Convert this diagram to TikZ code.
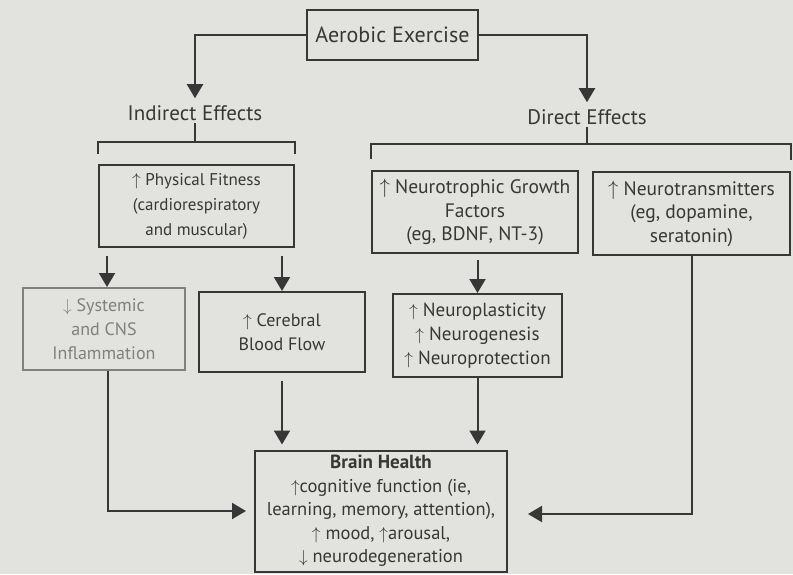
\documentclass[tikz,border=0pt]{standalone}
\usepackage{fontspec}
\setmainfont{PT Sans}
\usetikzlibrary{
  arrows.meta,
  calc,
  positioning
}

\definecolor{paper}{RGB}{226,226,223}
\definecolor{ink}{RGB}{55,55,55}
\definecolor{faded}{RGB}{128,128,126}

\newcommand{\incr}{$\uparrow$}
\newcommand{\decr}{$\downarrow$}

\tikzset{
  box/.style = {draw=ink, line width=2pt, align=center, inner sep=2pt,
    text=ink, font=\fontsize{19.5}{23.5}\selectfont},
  head/.style = {text=ink, inner sep=2pt, font=\fontsize{21}{24}\selectfont},
  link/.style = {draw=ink, line width=2pt},
  arr/.style = {link, -{Triangle[width=16pt,length=14pt]}}
}

\begin{document}
\begin{tikzpicture}[x=1pt, y=-1pt]
    \fill[paper] (0,0) rectangle (793,574);
    \useasboundingbox (0,0) rectangle (793,574);

    \node[box, minimum width=171pt, minimum height=50pt, font=\fontsize{22}{24}\selectfont] (ex) at (392.5,35) {Aerobic Exercise};
    \node[head] (ind) at (195,113) {Indirect Effects};
    \node[head] (dir) at (587,117) {Direct Effects};

    % second row
    \node[box, minimum width=195pt, minimum height=82pt, font=\fontsize{17}{25}\selectfont] (fit) at (196.5,206) {\incr\ Physical Fitness\\(cardiorespiratory\\and muscular)};
    \node[box, minimum width=206pt, minimum height=82pt] (ntf) at (475,212) {\incr\ Neurotrophic Growth\\Factors\\(eg, BDNF, NT-3)};
    \node[box, minimum width=197pt, minimum height=83pt] (nt) at (691.5,213.5) {\incr\ Neurotransmitters\\(eg, dopamine,\\seratonin)};

    % third row
    \node[box, draw=faded, text=faded, minimum width=162pt, minimum height=82pt, font=\fontsize{18}{24}\selectfont] (inf) at (104,329) {\decr\ Systemic\\and CNS\\Inflammation};
    \node[box, minimum width=166pt, minimum height=80pt, font=\fontsize{18}{24}\selectfont] (cbf) at (282,332) {\incr\ Cerebral\\Blood Flow};
    \node[box, minimum width=169pt, minimum height=83pt, font=\fontsize{19}{24}\selectfont] (np) at (477.5,335.5) {\incr\ Neuroplasticity\\\incr\ Neurogenesis\\\incr\ Neuroprotection};

    \node[box, minimum width=252pt, minimum height=121pt, font=\fontsize{18.5}{23.5}\selectfont] (bh) at (381,511) {{\fontsize{19}{23.5}\selectfont\textbf{Brain Health}}\\\incr cognitive function (ie,\\learning, memory, attention),\\\incr\ mood, \incr arousal,\\\decr\ neurodegeneration};

    % from the top
    \draw[arr, shorten >=5pt] (ex.west) -| (ind.north);
    \draw[arr, shorten >=5pt] (ex.east) -| (dir.north);

    % brackets
    \coordinate (indb) at (ind.south |- 0,142);
    \coordinate (dirb) at (dir.south |- 0,144);
    \draw[link] (ind) -- (indb);
    \draw[link] ([yshift=10pt]fit.north west) |- (indb) -| ([yshift=10pt]fit.north east);
    \draw[link] (dir) -- (dirb);
    \draw[link] ([yshift=11pt]ntf.north west) |- (dirb) -| ([yshift=11pt]nt.north east);

    % down the rows
    \draw[arr, shorten <=8pt] ([xshift=9pt]fit.south west) -- ([xshift=9pt]fit.south west |- inf.north);
    \draw[arr, shorten <=8pt] (cbf.north |- fit.south) -- (cbf.north);
    \draw[arr, shorten <=6pt] (np.north |- ntf.south) -- (np.north);

    % into brain health
    \draw[arr, shorten <=8pt, shorten >=5pt] (cbf.south) -- (cbf.south |- bh.north);
    \draw[arr, shorten >=5pt] (np.south) -- (np.south |- bh.north);
    \draw[arr] ([xshift=4pt]inf.south) |- ([xshift=-8pt]bh.west);
    \draw[arr] (nt.south) |- ([xshift=20pt, yshift=-3pt]bh.east);
\end{tikzpicture}
\end{document}
